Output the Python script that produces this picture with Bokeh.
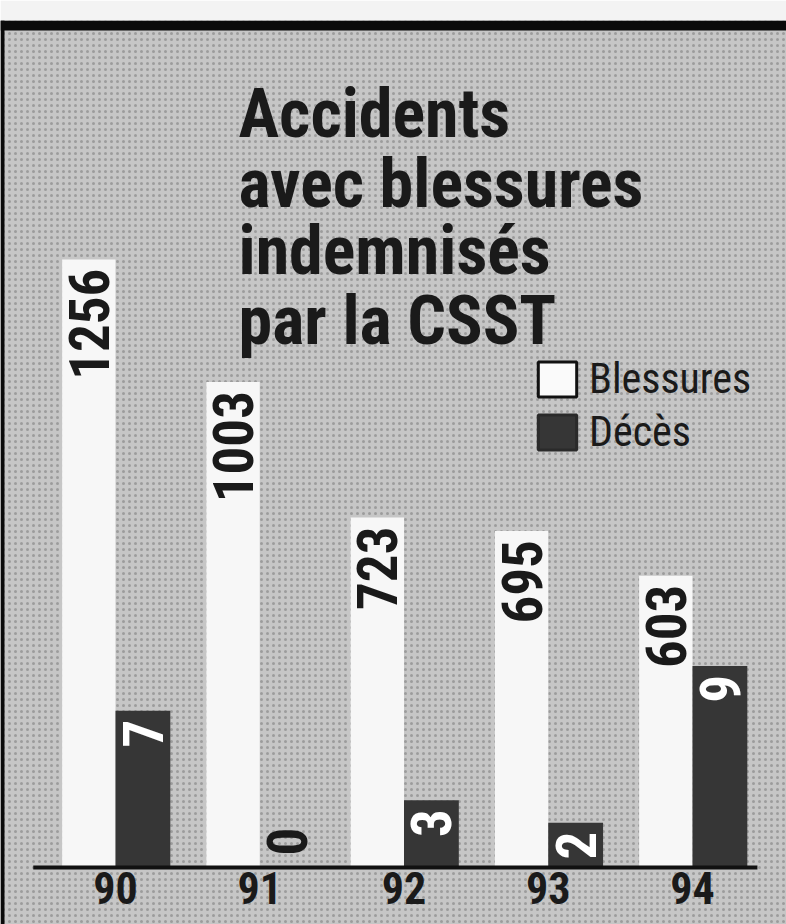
import math
from bokeh.plotting import figure
from bokeh.models import (ColumnDataSource, Range1d, Span, Legend, LegendItem,
                          BoxAnnotation, CDSView, BooleanFilter)
from bokeh.core.properties import value
from bokeh.transform import dodge
from bokeh.embed import file_html
from bokeh.resources import INLINE

# ---- data ----
years = ["90", "91", "92", "93", "94"]
blessures = [1256, 1003, 723, 695, 603]
deces = [7, 0, 3, 2, 9]
title_lines = ["Accidents", "avec blessures", "indemnisés", "par la CSST"]
legend_labels = ["Blessures", "Décès"]

# ---- layout (pixels) ----
W, H = 786, 924
TOP = 20
FH = H - TOP
BASE_PX = 867
K1 = 0.484      # px per injury
K2 = 22.4       # px per death
KX = 144.25     # px per year group
X0PX = 115

below = H - BASE_PX
y1_start = -below / K1
y1_end = y1_start + FH / K1
y2_start = -below / K2
y2_end = y2_start + FH / K2
x_start = -X0PX / KX
x_end = x_start + W / KX


def Y(cy):
    return y1_end - (cy - TOP) / K1


def X(cx):
    return x_start + cx / KX


FONT = "Roboto Condensed"
BG = "#c6c6c6"
WHITE = "#f7f7f7"
DARK = "#363636"
INK = "#1a1a1a"

p = figure(width=W, height=H, output_backend="svg", toolbar_location=None,
           x_range=Range1d(x_start, x_end), y_range=Range1d(y1_start, y1_end),
           x_axis_location=None, y_axis_location=None,
           min_border_left=0, min_border_right=0, min_border_top=TOP,
           min_border_bottom=0)
p.extra_y_ranges = {"deces": Range1d(y2_start, y2_end)}
p.xgrid.visible = False
p.ygrid.visible = False
p.outline_line_color = None
p.border_fill_color = "#f3f3f3"
p.background_fill_color = BG

# halftone texture
p.add_layout(BoxAnnotation(left=x_start, right=x_end, bottom=y1_start, top=y1_end,
                           fill_alpha=0, line_color=None, hatch_pattern="dot",
                           hatch_color="#808080", hatch_scale=6, hatch_weight=3,
                           hatch_alpha=0.6, level="underlay"))

idx = list(range(len(years)))
src = ColumnDataSource(dict(x=idx, year=years, b=blessures, d=deces,
                            bl=[str(v) for v in blessures],
                            dl=[str(v) for v in deces]))

p.vbar(x=dodge("x", -0.185), top="b", bottom=0, width=0.37, source=src,
       fill_color=WHITE, line_color=None)
p.vbar(x=dodge("x", 0.19), top="d", bottom=0, width=0.38, source=src,
       y_range_name="deces", fill_color=DARK, line_color=None)

lab = dict(text_font=value(FONT), text_font_style="bold", text_font_size="55px",
           angle=math.pi / 2, text_baseline="middle")
p.text(x=dodge("x", -0.185), y="b", text="bl", source=src, text_align="right",
       y_offset=9, text_color=INK, **lab)
p.text(x=dodge("x", 0.19), y="d", text="dl", source=src, y_range_name="deces",
       view=CDSView(filter=BooleanFilter([v > 0 for v in deces])),
       text_align="right", y_offset=9, text_color="#ffffff", **lab)
p.text(x=dodge("x", 0.19), y="d", text="dl", source=src, y_range_name="deces",
       view=CDSView(filter=BooleanFilter([v == 0 for v in deces])),
       text_align="left", y_offset=-12, text_color=INK, **lab)

# baseline and year labels
p.segment(x0=idx[0] - 0.57, x1=idx[-1] + 0.45, y0=0, y1=0, line_width=4,
          line_color="#111111")
p.text(x="x", y=0, text="year", source=src, text_align="center",
       text_baseline="top", y_offset=4, text_font=value(FONT),
       text_font_style="bold", text_font_size="44px", text_color=INK)

# title
p.text(x=[X(238)] * 4, y=[Y(113), Y(183), Y(250), Y(320)], text=title_lines,
       text_align="left", text_baseline="alphabetic", text_font=value(FONT),
       text_font_style="bold", text_font_size="68px", text_color=INK)

# frame lines
p.add_layout(Span(location=Y(25), dimension="width", line_width=10,
                  line_color="#0a0a0a"))
p.add_layout(Span(location=X(2), dimension="height", line_width=4,
                  line_color="#0a0a0a"))

# legend (hidden renderers carry the legend swatch styles)
lw = p.vbar(x=dodge("x", -0.185), top="b", width=0.37, source=src,
            fill_color="#fafafa", line_color="#111111", line_width=3, visible=False)
ld = p.vbar(x=dodge("x", 0.19), top="d", width=0.38, source=src,
            y_range_name="deces", fill_color=DARK, line_color="#2a2a2a",
            line_width=3, visible=False)
legend = Legend(items=[LegendItem(label=legend_labels[0], renderers=[lw]),
                       LegendItem(label=legend_labels[1], renderers=[ld])],
                location=(533, 468), glyph_width=48, glyph_height=44, spacing=4,
                label_standoff=8, padding=0, margin=0, border_line_color=None,
                background_fill_alpha=0, inactive_fill_alpha=0,
                label_text_font=FONT,
                label_text_font_size="42px", label_text_color=INK,
                label_text_baseline="middle")
p.add_layout(legend)

open("out.html", "w").write(file_html(p, INLINE))
